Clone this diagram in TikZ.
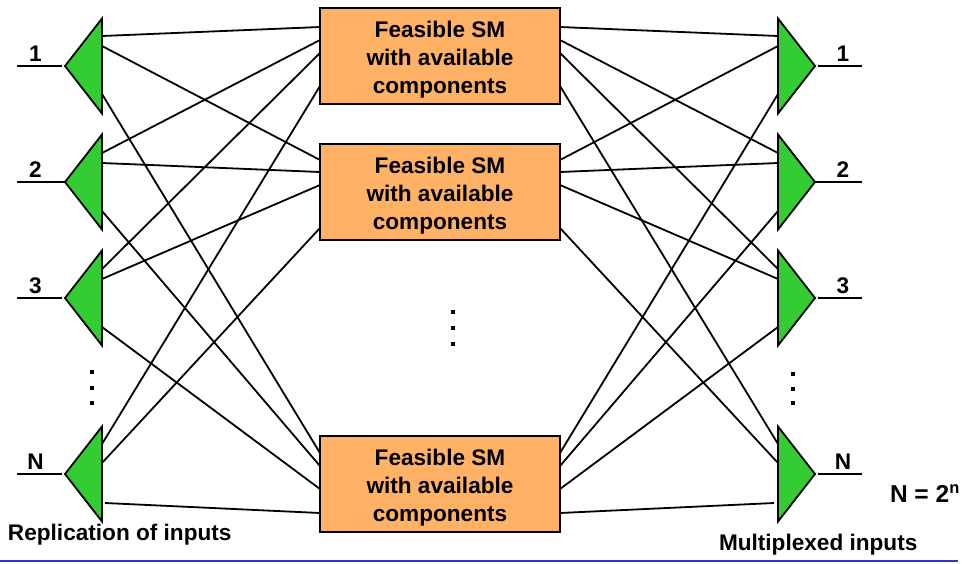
\documentclass[tikz,border=0pt]{standalone}
\usepackage{fontspec}
\setmainfont{Liberation Sans}
\usepackage{tikz}
\usetikzlibrary{shapes.geometric}
\definecolor{boxorange}{RGB}{255,178,102}
\definecolor{splitgreen}{RGB}{51,204,51}
\definecolor{linkblue}{RGB}{51,51,204}
\newcommand{\smlabel}{\rule{0pt}{24pt}Feasible SM\\with available\\components}

\begin{document}
\begin{tikzpicture}[x=1pt,y=-1pt,font=\fontsize{22.6}{28}\selectfont\bfseries,
every node/.style={inner sep=0pt,outer sep=0pt},
smbox/.style={draw,line width=2pt,fill=boxorange,minimum width=240pt,minimum height=96pt,align=center},
split/.style={draw,line width=1.8pt,fill=splitgreen,isosceles triangle,isosceles triangle stretches,minimum width=95pt,minimum height=37pt,anchor=apex},
wire/.style={line width=1.8pt},
dotmark/.style={fill=black,minimum size=4pt}]

\useasboundingbox (0,0) rectangle (969,563);

\path (440,56) node[smbox](b1){\smlabel} (440,192) node[smbox](b2){\smlabel} (440,484) node[smbox](b3){\smlabel};

\foreach \n/\y/\t/\e in {1/66/1/3,2/182/2/0,3/298/3/3,4/474/N/3} {
\path (65,\y) node[split,shape border rotate=180](a\n){} (815,\y) node[split,shape border rotate=0](c\n){};
\coordinate (ai\n) at (17,\y);
\coordinate (ae\n) at (65-\e,\y);
\coordinate (ci\n) at (862,\y);
\coordinate (ce\n) at (815+\e,\y);
\draw[wire] (ai\n) -- (ae\n);
\draw[wire] (ci\n) -- (ce\n);
\path (35.5,\y-4.5) node[anchor=base](al\n){\t} (843,\y-4.5) node[anchor=base](cl\n){\t};
}

\foreach \n/\u/\v/\w in {1/36/46/94,2/153/163/211,3/269/279/327,4/444/463/503} {
\coordinate (au\n) at (102,\u);
\coordinate (av\n) at (102,\v);
\coordinate (aw\n) at (102,\w);
\coordinate (cu\n) at (778,\u);
\coordinate (cv\n) at (778,\v);
\coordinate (cw\n) at (778,\w);
}
\coordinate (aw4) at (105,503);
\coordinate (cw4) at (774,503);

\foreach \n/\p/\q/\r/\s in {1/27/40/53/86,2/160/172/185/228,3/453/466/489/513} {
\coordinate (bl\n p) at (320,\p);
\coordinate (bl\n q) at (320,\q);
\coordinate (bl\n r) at (320,\r);
\coordinate (bl\n s) at (320,\s);
\coordinate (br\n p) at (560,\p);
\coordinate (br\n q) at (560,\q);
\coordinate (br\n r) at (560,\r);
\coordinate (br\n s) at (560,\s);
}

\foreach \s/\f in {l/a,r/c} {
\draw[wire] (\f u1) -- (b\s1p);
\draw[wire] (\f u2) -- (b\s1q);
\draw[wire] (\f u3) -- (b\s1r);
\draw[wire] (\f u4) -- (b\s1s);
\draw[wire] (\f v1) -- (b\s2p);
\draw[wire] (\f v2) -- (b\s2q);
\draw[wire] (\f v3) -- (b\s2r);
\draw[wire] (\f v4) -- (b\s2s);
\draw[wire] (\f w1) -- (b\s3p);
\draw[wire] (\f w2) -- (b\s3q);
\draw[wire] (\f w3) -- (b\s3r);
\draw[wire] (\f w4) -- (b\s3s);
}

\foreach \k/\x/\y in {1/92/372,2/92/388,3/92/403,4/793/374,5/793/389,6/793/403,7/453/312,8/453/328,9/453/344} {
\node[dotmark] (d\k) at (\x,\y) {};
}

\node[anchor=base west] (rep) at (8,540) {Replication of inputs};
\node[anchor=base west] (mux) at (719,550) {Multiplexed inputs};
\node[anchor=base west,font=\fontsize{24.5}{28}\selectfont\bfseries] (size) at (890,502) {N = 2\raisebox{9pt}{\fontsize{16.5}{16}\selectfont n}};

\coordinate (r1) at (0,561);
\coordinate (r2) at (958,561);
\draw[linkblue,line width=1.6pt] (r1) -- (r2);
\end{tikzpicture}
\end{document}
